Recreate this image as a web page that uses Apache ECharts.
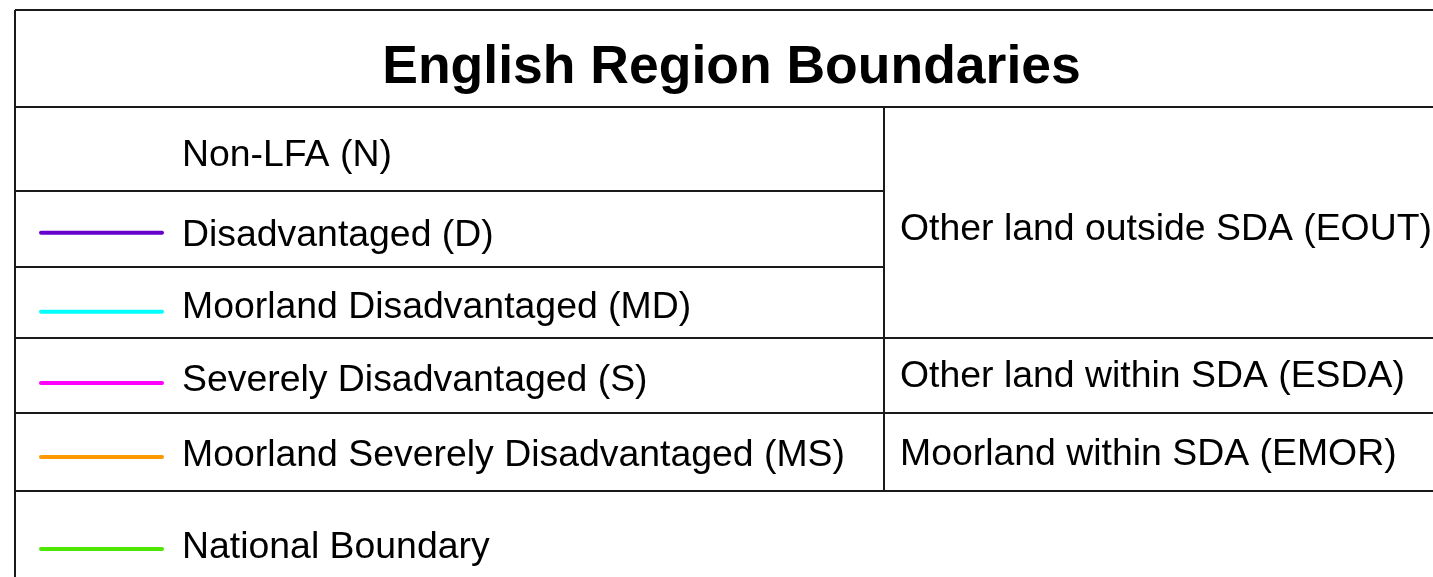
<!DOCTYPE html>
<html>
<head>
<meta charset="utf-8">
<script src="https://cdn.jsdelivr.net/npm/echarts@6/dist/echarts.min.js"></script>
<style>html,body{margin:0;padding:0;background:#fff;}#c{width:1433px;height:577px;}</style>
</head>
<body>
<div id="c"></div>
<script>
// ---- content ----
const title = 'English Region Boundaries';
const leftLabels = [
  'Non-LFA (N)',
  'Disadvantaged (D)',
  'Moorland Disadvantaged (MD)',
  'Severely Disadvantaged (S)',
  'Moorland Severely Disadvantaged (MS)',
  'National Boundary'
];
const swatchColors = [null, '#6600cc', '#00ffff', '#ff00ff', '#ff9900', '#4fe600'];
const rightLabels = ['Other land outside SDA (EOUT)', 'Other land within SDA (ESDA)', 'Moorland within SDA (EMOR)'];
const rightSpans = [3, 1, 1];

// ---- layout ----
const FONT = '"Liberation Sans", Arial, Helvetica, sans-serif';
const tableLeft = 15, tableTop = 10, tableRight = 1450;
const headerBottom = 107;
const rowEdges = [107, 191, 267, 338, 413, 491, 600];
const dividerX = 884;
const leftTextX = 182, rightTextX = 900;
const swatchX0 = 41, swatchX1 = 162;
const bodyFont = 37.4, titleFont = 53.5;
const leftBaselines = [164, 244, 316.7, 389.3, 464, 556];
const rightBaselines = [238, 385, 463];
const swatchYs = [null, 232.7, 311.7, 383, 457, 549];
const titleBaseline = 80;
const borderColor = '#1a1a1a';

// place text so its alphabetic baseline lands on the given y (tuned for zrender 'top')
function baselineToTop(b, fs) { return b - fs * 0.905 + fs * 0.18; }

const els = [];
function hline(y, x0, x1) {
  els.push({type: 'line', shape: {x1: x0, y1: y, x2: x1, y2: y}, style: {stroke: borderColor, lineWidth: 2}, z: 5});
}
function vline(x, y0, y1) {
  els.push({type: 'line', shape: {x1: x, y1: y0, x2: x, y2: y1}, style: {stroke: borderColor, lineWidth: 2}, z: 5});
}
hline(tableTop, tableLeft, tableRight);
vline(tableLeft, tableTop, 600);
hline(headerBottom, tableLeft, tableRight);
for (let i = 1; i < leftLabels.length; i++) {
  hline(rowEdges[i], tableLeft, i === leftLabels.length - 1 ? tableRight : dividerX);
}
let r = 0;
for (let k = 0; k < rightSpans.length; k++) {
  r += rightSpans[k];
  hline(rowEdges[r], dividerX, tableRight);
}
vline(dividerX, headerBottom, rowEdges[r]);

els.push({type: 'text', x: 731.5, y: baselineToTop(titleBaseline, titleFont),
  style: {text: title, font: 'bold ' + titleFont + 'px ' + FONT, fill: '#000', align: 'center', verticalAlign: 'top'}});

leftLabels.forEach((t, i) => {
  els.push({type: 'text', x: leftTextX, y: baselineToTop(leftBaselines[i], bodyFont),
    style: {text: t, font: bodyFont + 'px ' + FONT, fill: '#000', align: 'left', verticalAlign: 'top'}});
  if (swatchColors[i]) {
    els.push({type: 'line', shape: {x1: swatchX0, y1: swatchYs[i], x2: swatchX1, y2: swatchYs[i]},
      style: {stroke: swatchColors[i], lineWidth: 4, lineCap: 'round'}});
  }
});
rightLabels.forEach((t, k) => {
  els.push({type: 'text', x: rightTextX, y: baselineToTop(rightBaselines[k], bodyFont),
    style: {text: t, font: bodyFont + 'px ' + FONT, fill: '#000', align: 'left', verticalAlign: 'top'}});
});

const chart = echarts.init(document.getElementById('c'), null, {renderer: 'canvas'});
chart.setOption({
  backgroundColor: '#fff',
  animation: false,
  graphic: {elements: els}
});
</script>
</body>
</html>
